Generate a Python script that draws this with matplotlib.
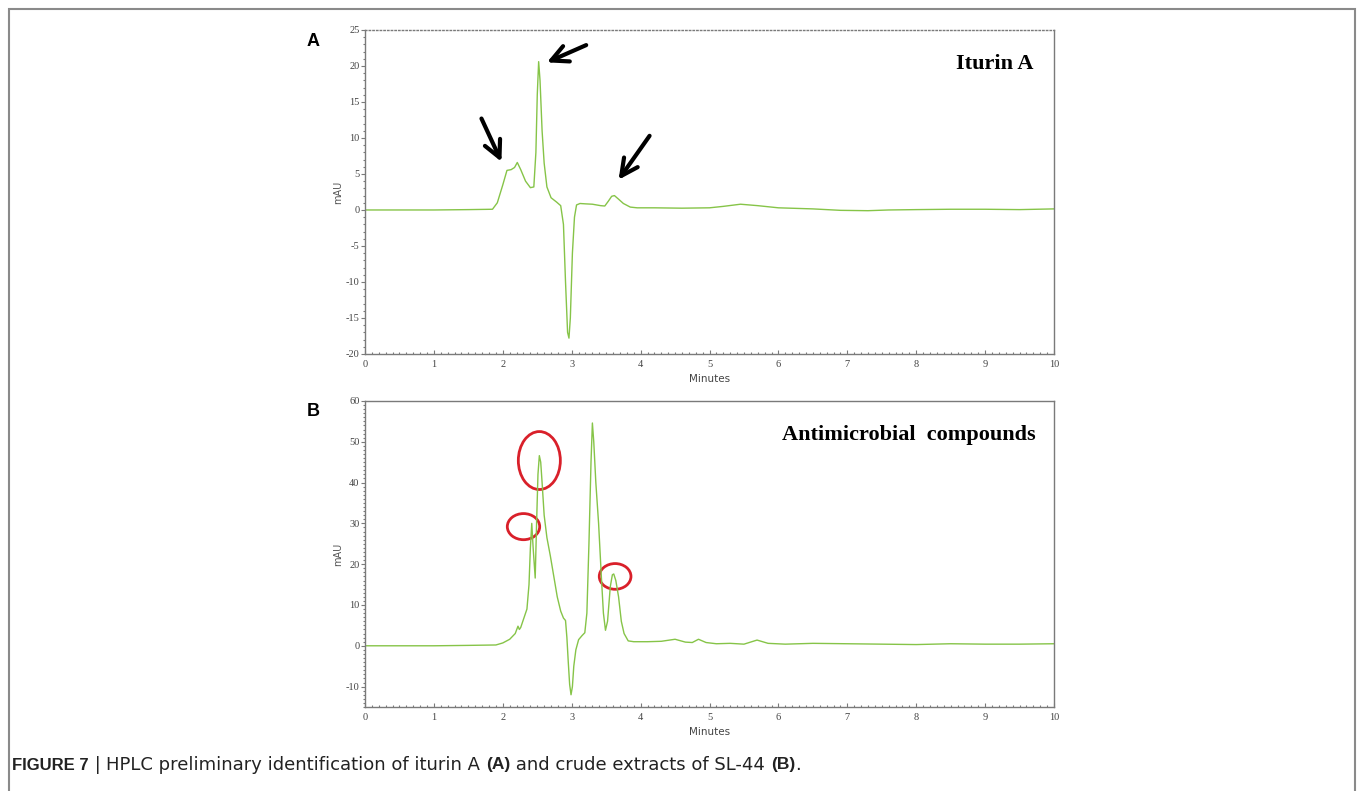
import numpy as np
import matplotlib
matplotlib.use('Agg')
import matplotlib.pyplot as plt
from matplotlib.patches import Ellipse, Rectangle
from matplotlib.ticker import MultipleLocator

plt.rcParams['axes.unicode_minus'] = False

# chromatogram A: iturin A standard (minutes, mAU)
t_a = [0, 0.5, 1.0, 1.5, 1.85, 1.92, 2.0, 2.06, 2.12, 2.17, 2.21, 2.26, 2.33, 2.40,
       2.45, 2.48, 2.50, 2.52, 2.54, 2.57, 2.60, 2.64, 2.70, 2.78, 2.84, 2.88, 2.91,
       2.94, 2.96, 2.98, 3.01, 3.04, 3.07, 3.12, 3.2, 3.3, 3.42, 3.48, 3.53, 3.58,
       3.62, 3.68, 3.75, 3.85, 3.95, 4.2, 4.6, 5.0, 5.2, 5.45, 5.7, 6.0, 6.5, 6.9,
       7.3, 7.6, 8.0, 8.5, 9.0, 9.5, 10.0]
v_a = [0.0, 0.0, 0.0, 0.05, 0.1, 1.0, 3.5, 5.5, 5.6, 5.9, 6.6, 5.6, 4.0, 3.1,
       3.2, 8.0, 16.0, 20.6, 18.0, 11.0, 6.5, 3.2, 1.7, 1.1, 0.6, -2.0, -10.0,
       -17.0, -17.8, -15.0, -6.0, -1.0, 0.7, 0.9, 0.85, 0.8, 0.6, 0.55, 1.2, 1.9,
       2.0, 1.5, 0.9, 0.4, 0.3, 0.3, 0.25, 0.3, 0.5, 0.8, 0.6, 0.3, 0.15, -0.05,
       -0.1, 0.0, 0.05, 0.1, 0.1, 0.05, 0.15]

# chromatogram B: crude extract of SL-44
t_b = [0, 0.5, 1.0, 1.5, 1.9, 2.0, 2.1, 2.18, 2.22, 2.24, 2.26, 2.30, 2.35, 2.38,
       2.40, 2.42, 2.44, 2.47, 2.49, 2.51, 2.53, 2.55, 2.57, 2.60, 2.64, 2.69,
       2.74, 2.79, 2.84, 2.88, 2.91, 2.93, 2.95, 2.97, 2.99, 3.01, 3.03, 3.06,
       3.10, 3.15, 3.19, 3.22, 3.25, 3.28, 3.30, 3.32, 3.35, 3.39, 3.43, 3.46,
       3.49, 3.52, 3.56, 3.59, 3.61, 3.64, 3.68, 3.72, 3.76, 3.82, 3.9, 4.1, 4.3,
       4.5, 4.65, 4.75, 4.84, 4.95, 5.1, 5.3, 5.5, 5.69, 5.85, 6.1, 6.5, 7.0, 7.5,
       8.0, 8.5, 9.0, 9.5, 10.0]
v_b = [0, 0, 0, 0.1, 0.2, 0.7, 1.6, 3.0, 4.8, 4.0, 4.5, 6.5, 9.0, 15.0,
       24.0, 30.0, 24.0, 16.6, 30.0, 42.0, 46.6, 45.0, 40.0, 32.0, 26.5, 22.0,
       17.0, 12.0, 8.5, 6.8, 6.2, 2.0, -4.0, -9.5, -12.0, -10.0, -5.0, -1.0,
       1.5, 2.5, 3.2, 8.0, 25.0, 45.0, 54.6, 50.0, 40.0, 30.0, 17.0, 8.0,
       3.8, 6.0, 14.5, 17.4, 17.6, 16.0, 12.0, 6.0, 3.0, 1.2, 1.0, 1.0, 1.1,
       1.6, 0.9, 0.8, 1.6, 0.8, 0.5, 0.6, 0.4, 1.4, 0.6, 0.4, 0.6, 0.5, 0.4,
       0.3, 0.5, 0.4, 0.4, 0.5]

# arrows in A: (tail time, tail mAU, head time, head mAU)
arrows_a = [(1.69, 12.7, 1.98, 6.7), (3.21, 22.9, 2.64, 20.5), (4.13, 10.3, 3.68, 4.2)]
# circled peaks in B: (centre time, centre mAU, width min, height mAU)
circles_b = [(2.53, 45.4, 0.61, 14.2), (2.30, 29.2, 0.47, 6.4), (3.63, 17.0, 0.46, 6.3)]

line_col = '#86c448'
spine_col = '#7a7a7a'
tick_font = {'family': 'Liberation Serif', 'size': 7.5, 'color': '#444444'}

fig = plt.figure(figsize=(13.57, 7.91), dpi=100)

# light gray page frame
fig.patches.append(Rectangle((0.0066, -0.05), 0.992, 1.0386, transform=fig.transFigure,
                             fill=False, edgecolor='#8a8a8a', lw=1.5))

ax1 = fig.add_axes([0.269, 0.5525, 0.5077, 0.4096])
ax2 = fig.add_axes([0.269, 0.1062, 0.5077, 0.3869])


def style(ax, ylim, yticks):
    ax.set_xlim(0, 10)
    ax.set_ylim(*ylim)
    ax.set_xticks(range(0, 11))
    ax.set_yticks(yticks)
    ax.xaxis.set_minor_locator(MultipleLocator(0.1))
    ax.yaxis.set_minor_locator(MultipleLocator(1))
    ax.tick_params(axis='both', which='both', colors=spine_col, width=0.8)
    ax.tick_params(axis='y', which='major', direction='out', length=3, pad=1)
    ax.tick_params(axis='y', which='minor', direction='out', length=1.5)
    ax.tick_params(axis='x', which='major', direction='in', length=3, pad=4)
    ax.tick_params(axis='x', which='minor', direction='in', length=1.5)
    for lab in ax.get_xticklabels() + ax.get_yticklabels():
        lab.set_fontfamily(tick_font['family'])
        lab.set_fontsize(tick_font['size'])
        lab.set_color(tick_font['color'])
    for s in ax.spines.values():
        s.set_color(spine_col)
        s.set_linewidth(1.0)
    ax.set_xlabel('Minutes', fontsize=7.5, color='#444444', labelpad=4)
    ax.set_ylabel('mAU', fontsize=7, color='#555555', labelpad=2)


style(ax1, (-20, 25), range(-20, 26, 5))
ax1.spines['top'].set_linestyle(':')
ax1.plot(t_a, v_a, color=line_col, lw=1.0)
for x0, y0, x1, y1 in arrows_a:
    ax1.annotate('', xy=(x1, y1), xytext=(x0, y0),
                 arrowprops=dict(arrowstyle='->,head_length=0.5,head_width=0.25',
                                 lw=3, color='black', mutation_scale=24,
                                 shrinkA=0, shrinkB=0))
ax1.text(0.97, 0.895, 'Iturin A', transform=ax1.transAxes, ha='right', va='center',
         family='Liberation Serif', weight='bold', fontsize=16)

style(ax2, (-15, 60), range(-10, 61, 10))
ax2.plot(t_b, v_b, color=line_col, lw=1.0)
for cx, cy, w, h in circles_b:
    ax2.add_patch(Ellipse((cx, cy), w, h, fill=False, edgecolor='#d9202a', lw=2.0))
ax2.text(0.974, 0.89, 'Antimicrobial  compounds', transform=ax2.transAxes, ha='right',
         va='center', family='Liberation Serif', weight='bold', fontsize=16)

# panel letters
fig.text(307 / 1357, 1 - 41 / 791, 'A', fontsize=13, weight='bold', va='center',
         family='Liberation Sans')
fig.text(307 / 1357, 1 - 412 / 791, 'B', fontsize=13, weight='bold', va='center',
         family='Liberation Sans')

# caption built from bold / regular pieces
pieces = [('FIGURE 7', 'bold', 12), (' | ', 'normal', 13),
          ('HPLC preliminary identification of iturin A ', 'normal', 13),
          ('(A)', 'bold', 12.5),
          (' and crude extracts of SL-44 ', 'normal', 13), ('(B)', 'bold', 12.5),
          ('.', 'normal', 13)]
renderer = fig.canvas.get_renderer()
x = 12
for txt, wt, fs in pieces:
    fam = 'Liberation Sans' if wt == 'bold' else 'DejaVu Sans'
    t = fig.text(x / 1357, 1 - 765 / 791, txt, fontsize=fs, weight=wt, va='center',
                 family=fam, color='#222222')
    bb = t.get_window_extent(renderer)
    x += bb.width

fig.savefig('out.png', dpi=100)
